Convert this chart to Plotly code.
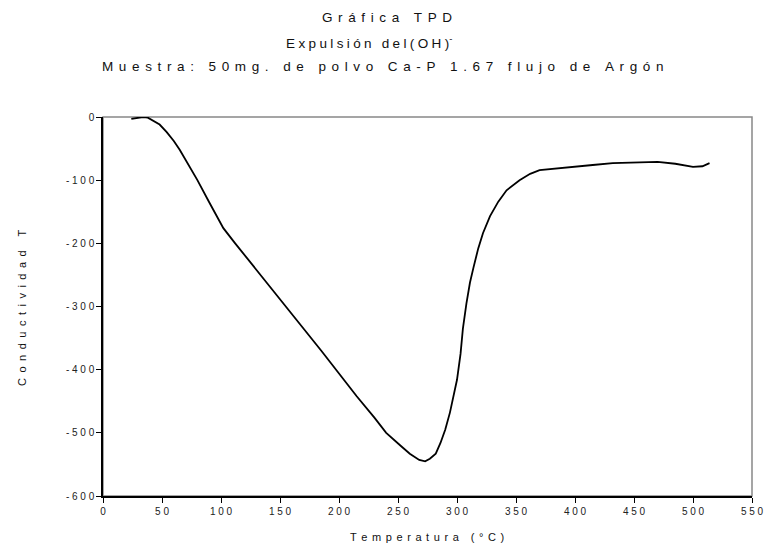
import plotly.graph_objects as go

# Data
temperatura = [24, 30, 34, 38, 42, 48, 54, 60, 65, 72, 80, 90, 102, 112, 125, 140,
               155, 170, 185, 200, 215, 230, 240, 252, 260, 268, 273, 277, 282, 286,
               290, 294, 297, 300, 303, 305, 308, 311, 314, 318, 322, 328, 335, 342,
               353, 362, 370, 385, 400, 415, 432, 450, 470, 485, 500, 508, 514]
conductividad = [-3, -1, 0, -1, -5, -12, -24, -38, -52, -74, -100, -135, -176, -200,
                 -230, -265, -300, -335, -370, -406, -442, -476, -500, -520, -533,
                 -543, -545, -541, -533, -516, -495, -468, -443, -416, -375, -335,
                 -295, -262, -238, -208, -184, -157, -134, -116, -100, -90, -84, -81,
                 -79, -76, -73, -72, -71, -74, -79, -78, -73]

x_ticks = [0, 50, 100, 150, 200, 250, 300, 350, 400, 450, 500, 550]
y_ticks = [0, -100, -200, -300, -400, -500, -600]

title_lines = ["Gráfica TPD", "Expulsión del(OH)", "Muestra: 50mg. de polvo Ca-P 1.67 flujo de Argón"]
x_title = "Temperatura (°C)"
y_title = "Conductividad T"

GAP = "\u2005\u2006"
WORD = "\u2005"


def spaced(s, gap=GAP, word=WORD):
    return gap.join(word if c == " " else c for c in s)


def spaced_num(v):
    return " ".join(str(v))


FONT = "Liberation Sans, Arial, sans-serif"

L, R, T, B = 103, 752, 117, 496
pw = float(R - L)
ph = float(B - T)


def px(x):
    return (x - L) / pw


def py(y):
    return (B - y) / ph


fig = go.Figure()
fig.add_trace(go.Scatter(x=temperatura, y=conductividad, mode="lines",
                         line=dict(color="black", width=1.8), showlegend=False))

fig.update_layout(
    width=771, height=551,
    margin=dict(l=L, r=771 - R, t=T, b=551 - B),
    paper_bgcolor="white", plot_bgcolor="white",
    font=dict(family=FONT, color="#222222"),
    xaxis=dict(range=[0, 550], tickvals=x_ticks, ticktext=[spaced_num(v) for v in x_ticks],
               showgrid=False, zeroline=False, showline=True, linecolor="black", linewidth=1.5,
               ticks="outside", ticklen=5, tickcolor="black", tickfont=dict(size=10, family=FONT),
               automargin=False),
    yaxis=dict(range=[-600, 0], tickvals=y_ticks, ticktext=[spaced_num(v) for v in y_ticks],
               showgrid=False, zeroline=False, showline=True, linecolor="black", linewidth=1.5,
               ticks="outside", ticklen=5, tickcolor="black", tickfont=dict(size=10, family=FONT),
               automargin=False),
)

fig.add_shape(type="rect", xref="paper", yref="paper", x0=0, x1=1, y0=0, y1=1,
              line=dict(color="#888888", width=1.5), layer="below")

# Title lines
centers = [387, 369, 382]
ys = [17, 42, 67]
texts = [spaced(title_lines[0]),
         spaced(title_lines[1], gap="\u2005", word="\u2005") + "<sup>-</sup>",
         spaced(title_lines[2])]
for t, cx, cy in zip(texts, centers, ys):
    fig.add_annotation(text=t, xref="paper", yref="paper",
                       x=px(cx), y=py(cy),
                       showarrow=False, xanchor="center", yanchor="middle",
                       font=dict(size=13.5, family=FONT, color="#111111"))

# Axis titles
fig.add_annotation(text=spaced(x_title), xref="paper", yref="paper",
                   x=px(427), y=py(537), showarrow=False,
                   xanchor="center", yanchor="middle",
                   font=dict(size=11, family=FONT, color="#111111"))
fig.add_annotation(text=spaced(y_title, gap="\u2005\u2005"), xref="paper", yref="paper",
                   x=px(22), y=py(308), showarrow=False, textangle=-90,
                   xanchor="center", yanchor="middle",
                   font=dict(size=11, family=FONT, color="#111111"))

fig.write_html("out.html", config={"displayModeBar": False},
               post_script="document.body.style.margin='0';")
